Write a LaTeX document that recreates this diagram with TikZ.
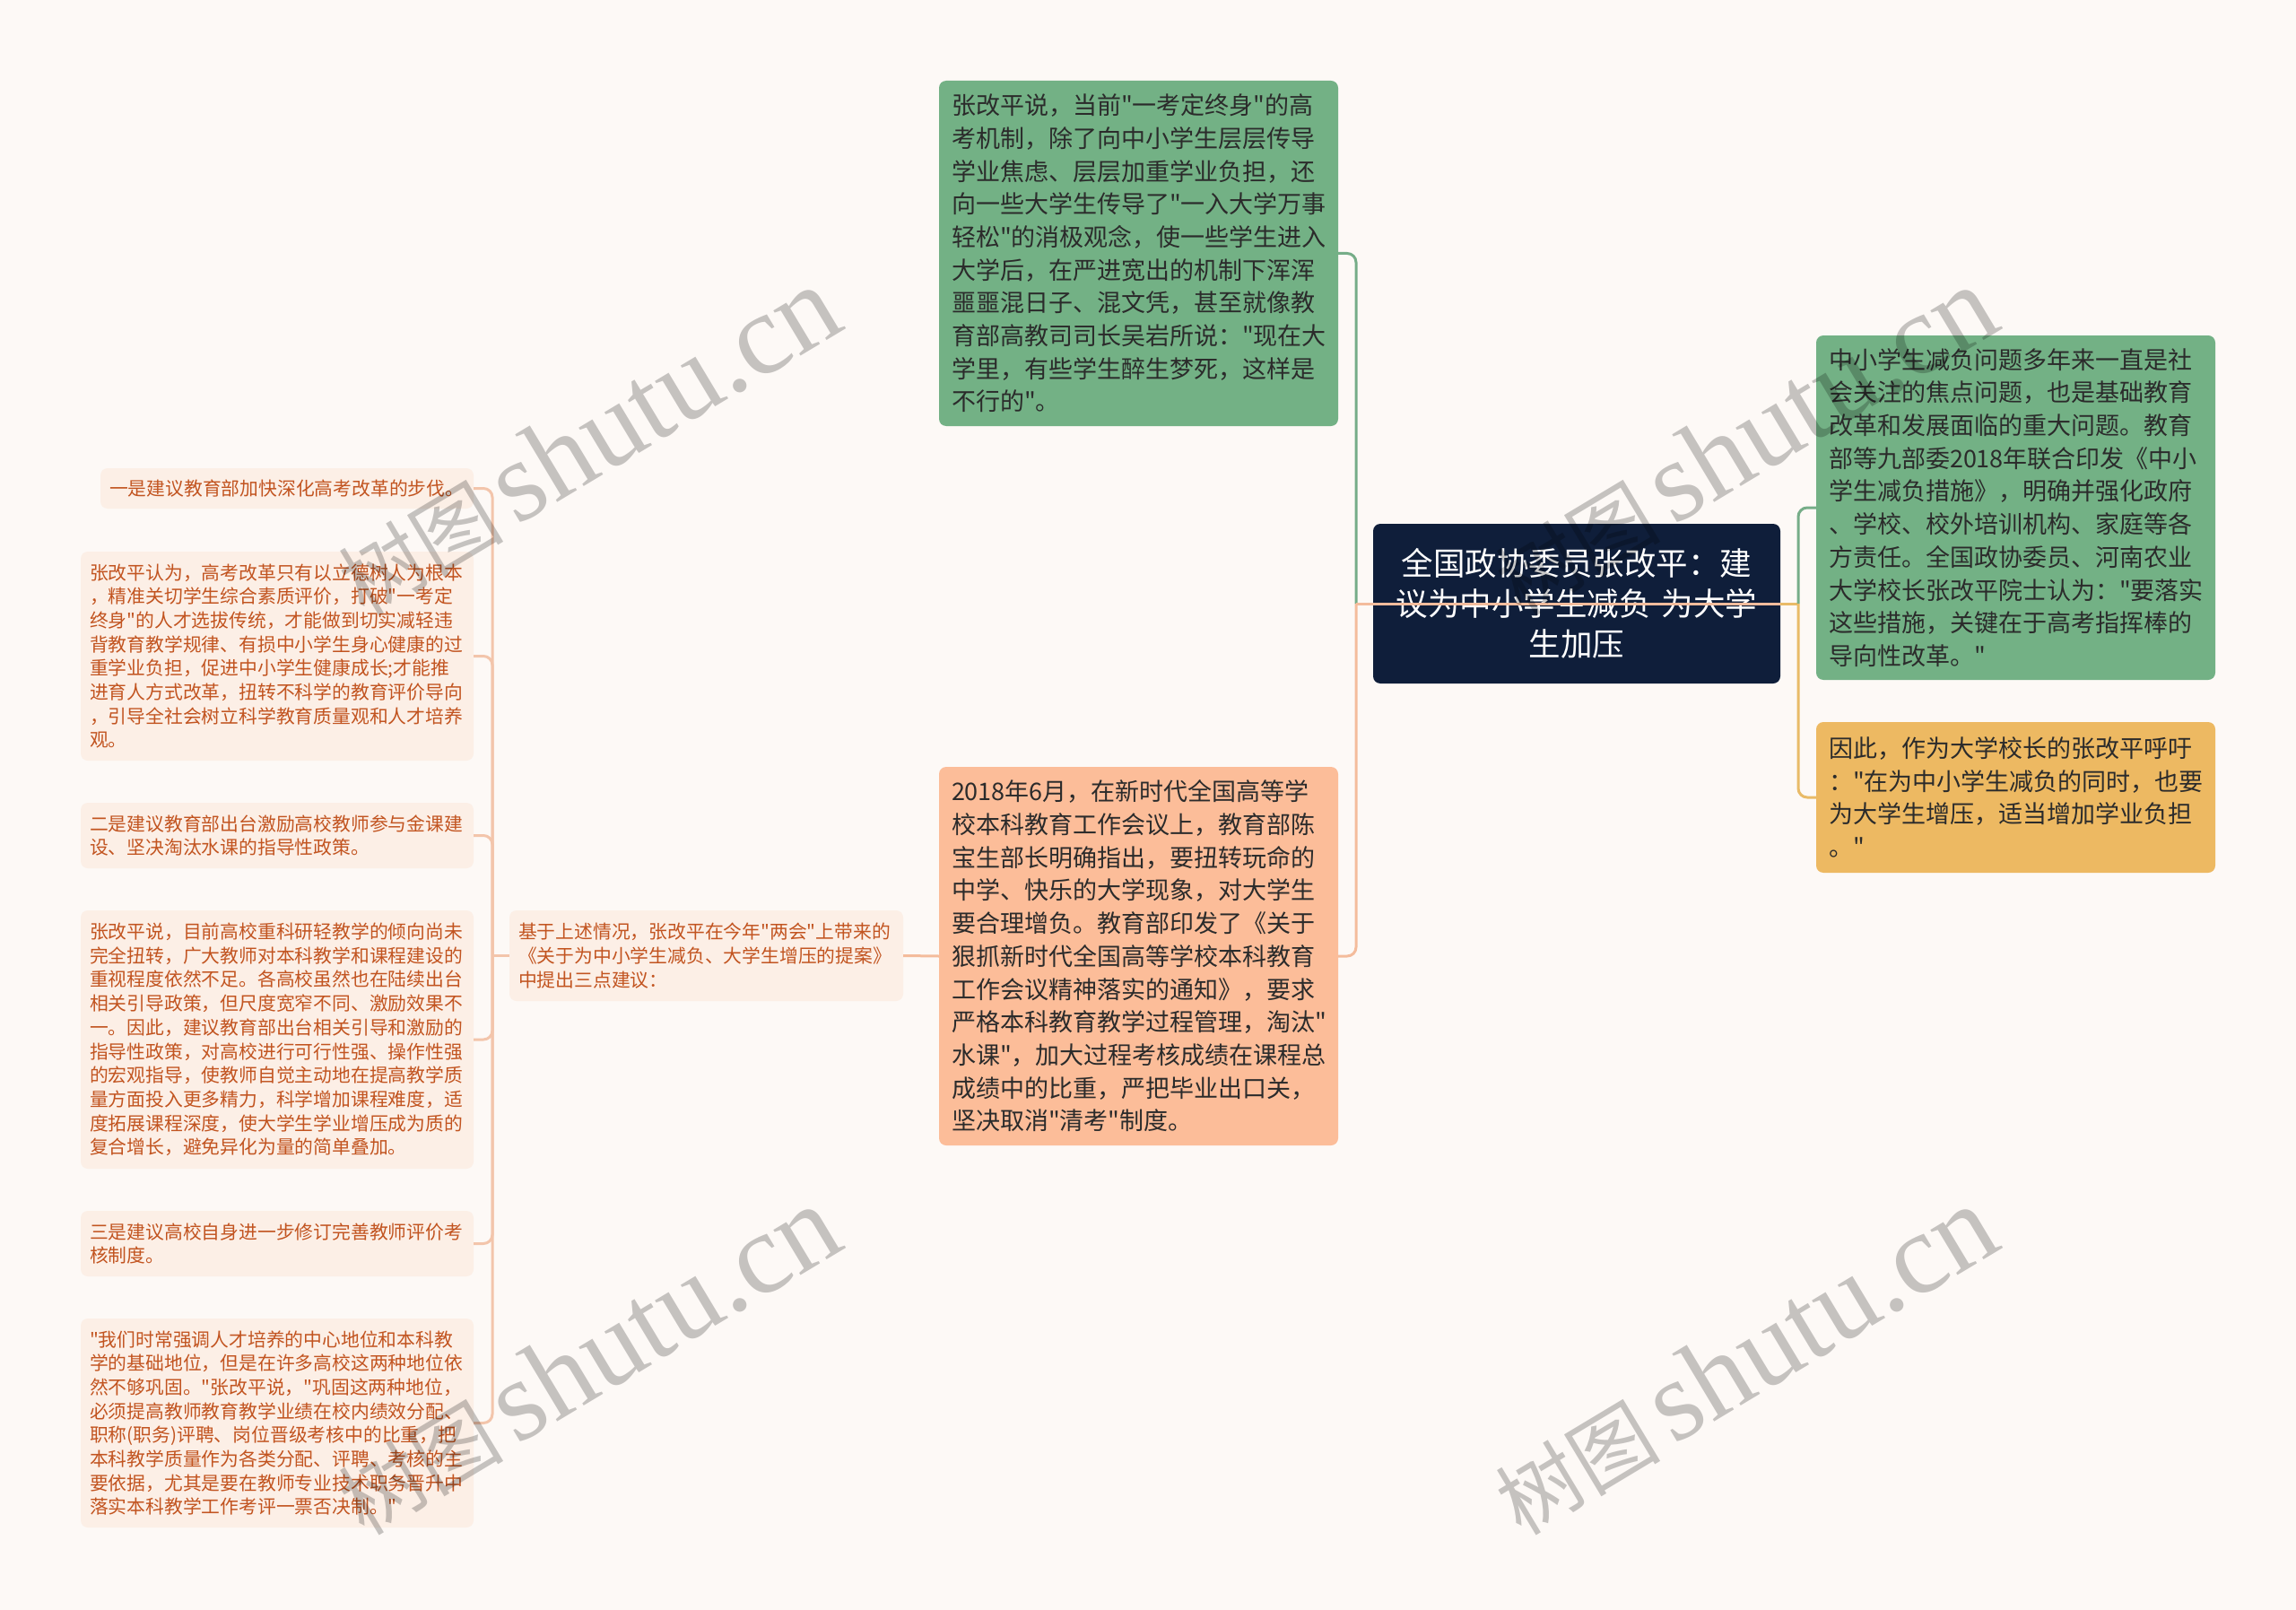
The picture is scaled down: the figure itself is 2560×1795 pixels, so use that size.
\documentclass[tikz,border=0pt]{standalone}
\usepackage{fontspec}
\setmainfont{Noto Sans CJK SC}[Ligatures=ResetAll]
\newfontfamily\cjk{Noto Sans CJK SC}
\newfontfamily\wmlatin{Liberation Serif}
\definecolor{bgc}{HTML}{FDF9F6}
\definecolor{gfill}{HTML}{73B185}
\definecolor{pfill}{HTML}{FCBD99}
\definecolor{yfill}{HTML}{EDB962}
\definecolor{navy}{HTML}{0F1E3A}
\definecolor{lfill}{HTML}{FCEFE6}
\definecolor{dtext}{HTML}{2B2B2B}
\definecolor{ltext}{HTML}{C25420}
\definecolor{gline}{HTML}{76AD88}
\definecolor{pline}{HTML}{F4BC9C}
\definecolor{yline}{HTML}{E9BB68}
\definecolor{bline}{HTML}{F3C5AB}
\newcommand\fbig{\cjk\fontsize{27}{36.7}\selectfont}
\newcommand\fsml{\cjk\fontsize{20.8}{26.7}\selectfont}
\newcommand\froot{\cjk\fontsize{35.5}{45}\selectfont}
\tikzset{
  boxbase/.style={rounded corners=8pt, inner ysep=0pt, align=left, anchor=center},
  gbox/.style={boxbase, fill=gfill, text=dtext, font=\fbig, inner xsep=14pt},
  pbox/.style={boxbase, fill=pfill, text=dtext, font=\fbig, inner xsep=14pt},
  ybox/.style={boxbase, fill=yfill, text=dtext, font=\fbig, inner xsep=14pt},
  leaf/.style={boxbase, fill=lfill, text=ltext, font=\fsml, inner xsep=10pt},
  rootbox/.style={boxbase, fill=navy, text=white, font=\froot, align=center, inner xsep=17pt},
  conn/.style={line width=3pt, rounded corners=10pt},
  wm/.style={text=black, text opacity=0.22, inner sep=0pt}
}
\begin{document}
\begin{tikzpicture}[x=1pt,y=-1pt]
\fill[bgc] (0,0) rectangle (2560,1795);
\useasboundingbox (0,0) rectangle (2560,1795);

% root
\node[rootbox, minimum width=454pt, minimum height=178pt, text width=420pt] (root) at (1758,673)
 {全国政协委员张改平：建\\议为中小学生减负 为大学\\生加压};

% right side
\node[gbox, minimum width=445pt, minimum height=384pt, text width=417pt] (g2) at (2247.5,566)
 {中小学生减负问题多年来一直是社\\会关注的焦点问题，也是基础教育\\改革和发展面临的重大问题。教育\\部等九部委2018年联合印发《中小\\学生减负措施》，明确并强化政府\\、学校、校外培训机构、家庭等各\\方责任。全国政协委员、河南农业\\大学校长张改平院士认为："要落实\\这些措施，关键在于高考指挥棒的\\导向性改革。"};
\node[ybox, minimum width=445pt, minimum height=168pt, text width=417pt] (y1) at (2247.5,889)
 {因此，作为大学校长的张改平呼吁\\："在为中小学生减负的同时，也要\\为大学生增压，适当增加学业负担\\。"};

% middle column
\node[gbox, minimum width=445pt, minimum height=385pt, text width=417pt] (g1) at (1269.5,282.5)
 {张改平说，当前"一考定终身"的高\\考机制，除了向中小学生层层传导\\学业焦虑、层层加重学业负担，还\\向一些大学生传导了"一入大学万事\\轻松"的消极观念，使一些学生进入\\大学后，在严进宽出的机制下浑浑\\噩噩混日子、混文凭，甚至就像教\\育部高教司司长吴岩所说："现在大\\学里，有些学生醉生梦死，这样是\\不行的"。};
\node[pbox, minimum width=445pt, minimum height=422pt, text width=417pt] (p1) at (1269.5,1066)
 {2018年6月，在新时代全国高等学\\校本科教育工作会议上，教育部陈\\宝生部长明确指出，要扭转玩命的\\中学、快乐的大学现象，对大学生\\要合理增负。教育部印发了《关于\\狠抓新时代全国高等学校本科教育\\工作会议精神落实的通知》，要求\\严格本科教育教学过程管理，淘汰"\\水课"，加大过程考核成绩在课程总\\成绩中的比重，严把毕业出口关，\\坚决取消"清考"制度。};

% left middle
\node[leaf, minimum width=439pt, minimum height=101pt, text width=419pt] (m1) at (787.5,1065.5)
 {基于上述情况，张改平在今年"两会"上带来的\\《关于为中小学生减负、大学生增压的提案》\\中提出三点建议：};

% leaves
\node[leaf, minimum width=416pt, minimum height=45pt, text width=396pt] (l1) at (320,544.5)
 {一是建议教育部加快深化高考改革的步伐。};
\node[leaf, minimum width=438pt, minimum height=233pt, text width=418pt] (l2) at (309,731.5)
 {张改平认为，高考改革只有以立德树人为根本\\，精准关切学生综合素质评价，打破"一考定\\终身"的人才选拔传统，才能做到切实减轻违\\背教育教学规律、有损中小学生身心健康的过\\重学业负担，促进中小学生健康成长;才能推\\进育人方式改革，扭转不科学的教育评价导向\\，引导全社会树立科学教育质量观和人才培养\\观。};
\node[leaf, minimum width=438pt, minimum height=73pt, text width=418pt] (l3) at (309,931.5)
 {二是建议教育部出台激励高校教师参与金课建\\设、坚决淘汰水课的指导性政策。};
\node[leaf, minimum width=438pt, minimum height=288pt, text width=418pt] (l4) at (309,1159)
 {张改平说，目前高校重科研轻教学的倾向尚未\\完全扭转，广大教师对本科教学和课程建设的\\重视程度依然不足。各高校虽然也在陆续出台\\相关引导政策，但尺度宽窄不同、激励效果不\\一。因此，建议教育部出台相关引导和激励的\\指导性政策，对高校进行可行性强、操作性强\\的宏观指导，使教师自觉主动地在提高教学质\\量方面投入更多精力，科学增加课程难度，适\\度拓展课程深度，使大学生学业增压成为质的\\复合增长，避免异化为量的简单叠加。};
\node[leaf, minimum width=438pt, minimum height=73pt, text width=418pt] (l5) at (309,1386.5)
 {三是建议高校自身进一步修订完善教师评价考\\核制度。};
\node[leaf, minimum width=438pt, minimum height=233pt, text width=418pt] (l6) at (309,1586.5)
 {"我们时常强调人才培养的中心地位和本科教\\学的基础地位，但是在许多高校这两种地位依\\然不够巩固。"张改平说，"巩固这两种地位，\\必须提高教师教育教学业绩在校内绩效分配、\\职称(职务)评聘、岗位晋级考核中的比重，把\\本科教学质量作为各类分配、评聘、考核的主\\要依据，尤其是要在教师专业技术职务晋升中\\落实本科教学工作考评一票否决制。"};

% junction coordinates
\coordinate (rl) at (1512,673);
\coordinate (rr) at (2005,673);
\coordinate (lb) at (549,1065.5);

% connectors root left
\draw[conn, pline] (root.west) -- (rl);
\draw[conn, gline] (rl) |- (g1.east);
\draw[conn, pline] (rl) |- (p1.east);
% root right
\draw[conn, yline] (root.east) -- (rr);
\draw[conn, gline] (rr) |- (g2.west);
\draw[conn, yline] (rr) |- (y1.west);
% peach to m1
\draw[conn, pline] (p1.west) -- (m1.east);
% m1 to leaves
\draw[conn, bline] (m1.west) -- (lb);
\foreach \n in {l1,l2,l3,l4,l5,l6}{
  \draw[conn, bline] (lb) |- (\n.east);
}
% line across root
\draw[line width=3pt, pline] (rl) -- (root.east);

% watermarks
\foreach \p/\nm in {{(655,492)}/wma,{(1945,492)}/wmb,{(655,1517)}/wmc,{(1945,1517)}/wmd}{
  \node[wm, rotate=31] (\nm) at \p {{\cjk\fontsize{92}{92}\selectfont 树图}\hspace{14pt}{\wmlatin\fontsize{128}{128}\selectfont shutu.cn}};
}
\end{tikzpicture}
\end{document}
